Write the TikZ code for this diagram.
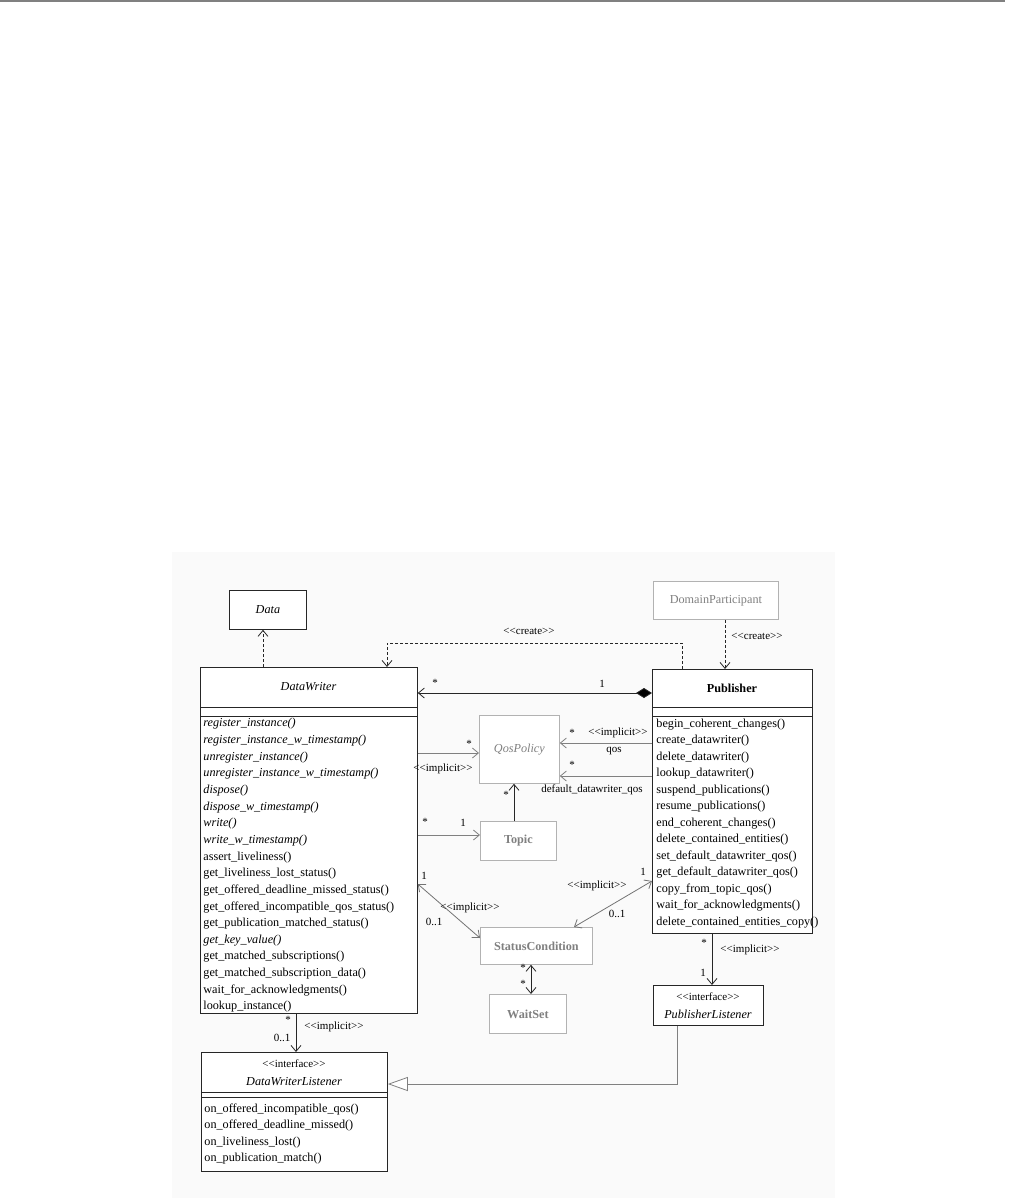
\documentclass[tikz,border=0pt]{standalone}
\usepackage{fontspec}
\setmainfont{Liberation Serif}[Ligatures=TeXOff]
\usetikzlibrary{arrows.meta, positioning}

\newcommand{\stereo}[1]{\textless\textless#1\textgreater\textgreater}

\begin{document}
\fontsize{12.2}{16.5}\selectfont
\begin{tikzpicture}[x=1pt, y=-1pt, line width=0.8pt,
  classbox/.style={draw=black!85, fill=white, anchor=north west, inner sep=0pt},
  ghostbox/.style={draw=black!30, fill=white, anchor=north west, inner sep=0pt},
  ghosttext/.style={text=black!50},
  opslist/.style={anchor=north west, align=left, inner sep=0pt},
  lbl/.style={font=\fontsize{11}{13}\selectfont, inner sep=1pt},
  opentip/.style={-{Straight Barb[length=6pt, width=10pt]}},
  assoc/.style={draw=black!85, opentip},
  greyassoc/.style={draw=black!50, opentip},
  bothways/.style={draw=black!55, {Straight Barb[length=6pt, width=10pt]}-{Straight Barb[length=6pt, width=10pt]}},
  depend/.style={draw=black!85, dash pattern=on 3pt off 2pt, opentip},
  compose/.style={draw=black!85, {Straight Barb[length=6pt, width=10pt]}-{Diamond[length=16pt, width=10pt, fill=black]}},
  realize/.style={draw=black!50, -{Triangle[open, length=20pt, width=14pt, fill=white]}}
]
  \useasboundingbox (0,0) rectangle (1010,1198);

  % page rule and diagram backdrop
  \draw[black!50, line width=2pt] (0,1.5) -- (1005,1.5);
  \fill[black!2] (172,552) rectangle (835,1198);

  % Data
  \node[classbox, minimum width=77pt, minimum height=39pt] (data) at (229,590) {};
  \node[font=\itshape] (dataname) at (data.center) {Data};

  % DataWriter
  \node[classbox, minimum width=217pt, minimum height=346pt] (dw) at (200,667) {};
  \node[font=\itshape] (dwname) at (308.5,687) {DataWriter};
  \draw[black!85] (200,707) -- (417,707) (200,716) -- (417,716);
  \node[opslist, font=\fontsize{12.2}{16.65}\selectfont] (dwops) at (203,718) {\textit{register\_instance()}\\
    \textit{register\_instance\_w\_timestamp()}\\
    \textit{unregister\_instance()}\\
    \textit{unregister\_instance\_w\_timestamp()}\\
    \textit{dispose()}\\
    \textit{dispose\_w\_timestamp()}\\
    \textit{write()}\\
    \textit{write\_w\_timestamp()}\\
    assert\_liveliness()\\
    get\_liveliness\_lost\_status()\\
    get\_offered\_deadline\_missed\_status()\\
    get\_offered\_incompatible\_qos\_status()\\
    get\_publication\_matched\_status()\\
    \textit{get\_key\_value()}\\
    get\_matched\_subscriptions()\\
    get\_matched\_subscription\_data()\\
    wait\_for\_acknowledgments()\\
    lookup\_instance()};

  % DomainParticipant
  \node[ghostbox, minimum width=125pt, minimum height=38pt] (dp) at (653,581) {};
  \node[ghosttext] (dpname) at (dp.center) {DomainParticipant};

  % Publisher
  \node[classbox, minimum width=160pt, minimum height=264pt] (pub) at (652,669) {};
  \node[font=\bfseries] (pubname) at (732,688) {Publisher};
  \draw[black!85] (652,707) -- (812,707) (652,716) -- (812,716);
  \node[opslist] (pubops) at (656,718.5) {begin\_coherent\_changes()\\
    create\_datawriter()\\
    delete\_datawriter()\\
    lookup\_datawriter()\\
    suspend\_publications()\\
    resume\_publications()\\
    end\_coherent\_changes()\\
    delete\_contained\_entities()\\
    set\_default\_datawriter\_qos()\\
    get\_default\_datawriter\_qos()\\
    copy\_from\_topic\_qos()\\
    wait\_for\_acknowledgments()\\
    delete\_contained\_entities\_copy()};

  % QosPolicy, Topic, StatusCondition, WaitSet
  \node[ghostbox, minimum width=80pt, minimum height=68pt] (qos) at (479,715) {};
  \node[ghosttext, font=\itshape] (qosname) at (qos.center) {QosPolicy};
  \node[ghostbox, minimum width=76pt, minimum height=39pt] (topic) at (480,821) {};
  \node[ghosttext, font=\bfseries] (topicname) at (topic.center) {Topic};
  \node[ghostbox, minimum width=112pt, minimum height=37pt] (sc) at (480,927) {};
  \node[ghosttext, font=\bfseries] (scname) at (sc.center) {StatusCondition};
  \node[ghostbox, minimum width=77pt, minimum height=39pt] (ws) at (489,994) {};
  \node[ghosttext, font=\bfseries] (wsname) at (ws.center) {WaitSet};

  % DataWriterListener
  \node[classbox, minimum width=186pt, minimum height=119pt] (dwl) at (201,1052) {};
  \node[lbl] (dwlstereo) at (294,1064) {\stereo{interface}};
  \node[font=\itshape] (dwlname) at (294,1082) {DataWriterListener};
  \draw[black!85] (201,1092) -- (387,1092) (201,1097) -- (387,1097);
  \node[opslist] (dwlops) at (204,1103) {on\_offered\_incompatible\_qos()\\
    on\_offered\_deadline\_missed()\\
    on\_liveliness\_lost()\\
    on\_publication\_match()};

  % PublisherListener
  \node[classbox, minimum width=110pt, minimum height=40pt] (pl) at (653,985) {};
  \node[lbl] (plstereo) at (708,997) {\stereo{interface}};
  \node[font=\itshape] (plname) at (708,1014) {PublisherListener};

  % dependencies
  \draw[depend] (dw.north -| 263,0) -- (data.south -| 263,0);
  \draw[depend] (pub.north -| 682,0) -- ++(0,-26) -| (dw.north -| 387,0);
  \node[lbl] (createa) at (529,631) {\stereo{create}};
  \draw[depend] (dp.south -| 725,0) -- (pub.north -| 725,0);
  \node[lbl] (createb) at (757,636) {\stereo{create}};

  % composition
  \draw[compose] (dw.east |- 0,693) -- (pub.west |- 0,693);
  \node[lbl] (compmany) at (435,683) {*};
  \node[lbl] (compone) at (602,684) {1};

  % qos associations
  \draw[greyassoc] (dw.east |- 0,753) -- (qos.west |- 0,753);
  \node[lbl] (dwqosmany) at (469,744) {*};
  \node[lbl] (dwqosimpl) at (443,769) {\stereo{implicit}};
  \draw[greyassoc] (pub.west |- 0,743) -- (qos.east |- 0,743);
  \node[lbl] (pubqosmany) at (572,733) {*};
  \node[lbl] (pubqosimpl) at (618,733) {\stereo{implicit}};
  \node[lbl] (pubqosrole) at (614,751) {qos};
  \draw[greyassoc] (pub.west |- 0,776) -- (qos.east |- 0,776);
  \node[lbl] (pubdefmany) at (572,765) {*};
  \node[lbl] (pubdefrole) at (592,790) {default\_datawriter\_qos};
  \draw[assoc] (topic.north -| 514,0) -- (qos.south -| 514,0);
  \node[lbl] (topicqosmany) at (506,795) {*};

  % topic association
  \draw[greyassoc] (dw.east |- 0,835) -- (topic.west |- 0,835);
  \node[lbl] (dwtopicmany) at (425,822) {*};
  \node[lbl] (dwtopicone) at (463,823) {1};

  % status condition
  \draw[bothways] (dw.east |- 0,884) -- (sc.west |- 0,938);
  \node[lbl] (dwscone) at (424,876) {1};
  \node[lbl] (dwscimpl) at (470,908) {\stereo{implicit}};
  \node[lbl] (dwscopt) at (434,922) {0..1};
  \draw[bothways] (pub.west |- 0,881) -- (sc.north -| 574,0);
  \node[lbl] (pubscone) at (643,872) {1};
  \node[lbl] (pubscimpl) at (597,886) {\stereo{implicit}};
  \node[lbl] (pubscopt) at (617,914) {0..1};
  \draw[bothways, draw=black!85] (sc.south -| 531,0) -- (ws.north -| 531,0);
  \node[lbl] (scwsa) at (523,968) {*};
  \node[lbl] (scwsb) at (523,984) {*};

  % listeners
  \draw[assoc] (dw.south -| 296,0) -- (dwl.north -| 296,0);
  \node[lbl] (dwlmany) at (288,1020) {*};
  \node[lbl] (dwlopt) at (282,1038) {0..1};
  \node[lbl] (dwlimpl) at (334,1027) {\stereo{implicit}};
  \draw[assoc] (pub.south -| 712,0) -- (pl.north -| 712,0);
  \node[lbl] (plmany) at (704,943) {*};
  \node[lbl] (plone) at (703,973) {1};
  \node[lbl] (plimpl) at (750,950) {\stereo{implicit}};
  \draw[realize] (pl.south -| 677,0) |- (dwl.east |- 0,1084);
\end{tikzpicture}
\end{document}
